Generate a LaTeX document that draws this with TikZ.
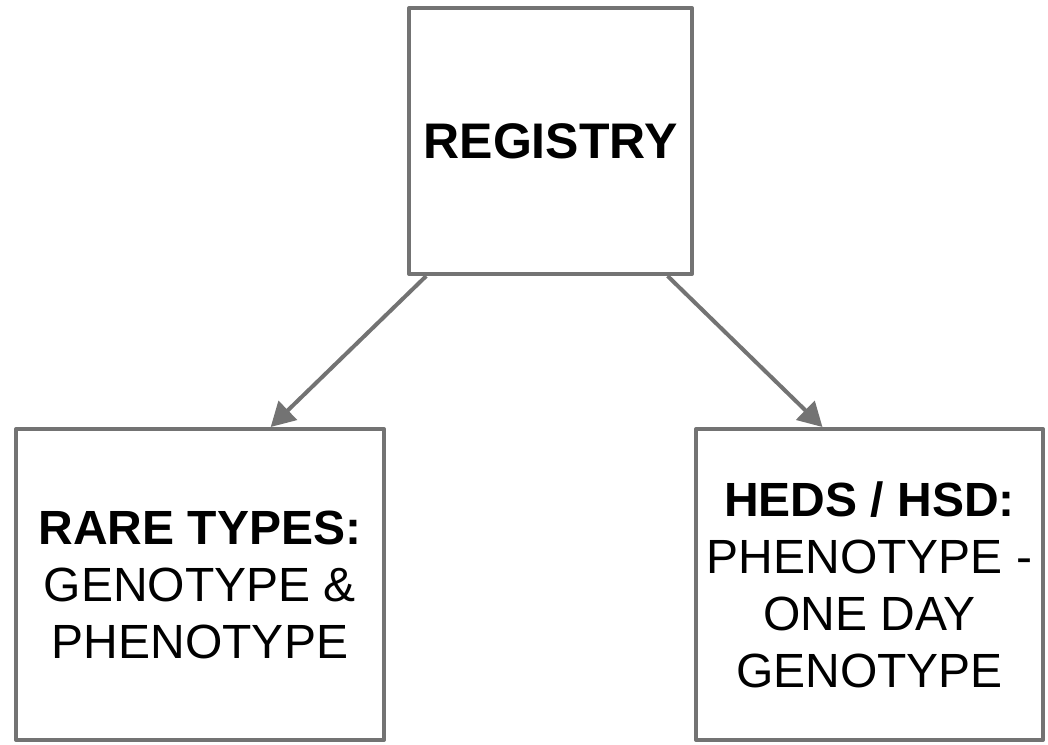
\documentclass[tikz,border=0pt]{standalone}
\usepackage{fontspec}
\setmainfont{Liberation Sans}
\usetikzlibrary{arrows.meta,calc}
\begin{document}
\begin{tikzpicture}[x=1pt,y=-1pt,
  box/.style={draw=boxgray,line width=4pt,line join=round,fill=white,inner sep=0pt,align=center,
    font=\fontsize{48}{57}\selectfont},
  conn/.style={draw=boxgray,line width=4pt,-{Triangle[length=24pt,width=26pt]}}]
\definecolor{boxgray}{HTML}{737373}
\useasboundingbox (0,0) rectangle (1048,744);
\node[box,minimum width=283pt,minimum height=266pt,font=\fontsize{50}{57}\selectfont] (reg) at (550.5,141) {\textbf{REGISTRY}};
\node[box,minimum width=368pt,minimum height=311pt] (rare) at (200,584.5) {\textbf{RARE TYPES:}\\GENOTYPE \&\\PHENOTYPE};
\node[box,minimum width=347pt,minimum height=311pt] (heds) at (869.5,584.5) {\textbf{HEDS / HSD:}\\PHENOTYPE -\\ONE DAY\\GENOTYPE};
\draw[conn] ($(reg.south west)!0.067!(reg.south east)$) -- ($(rare.north west)!0.69!(rare.north east)$);
\draw[conn] ($(reg.south west)!0.908!(reg.south east)$) -- ($(heds.north west)!0.366!(heds.north east)$);
\end{tikzpicture}
\end{document}
